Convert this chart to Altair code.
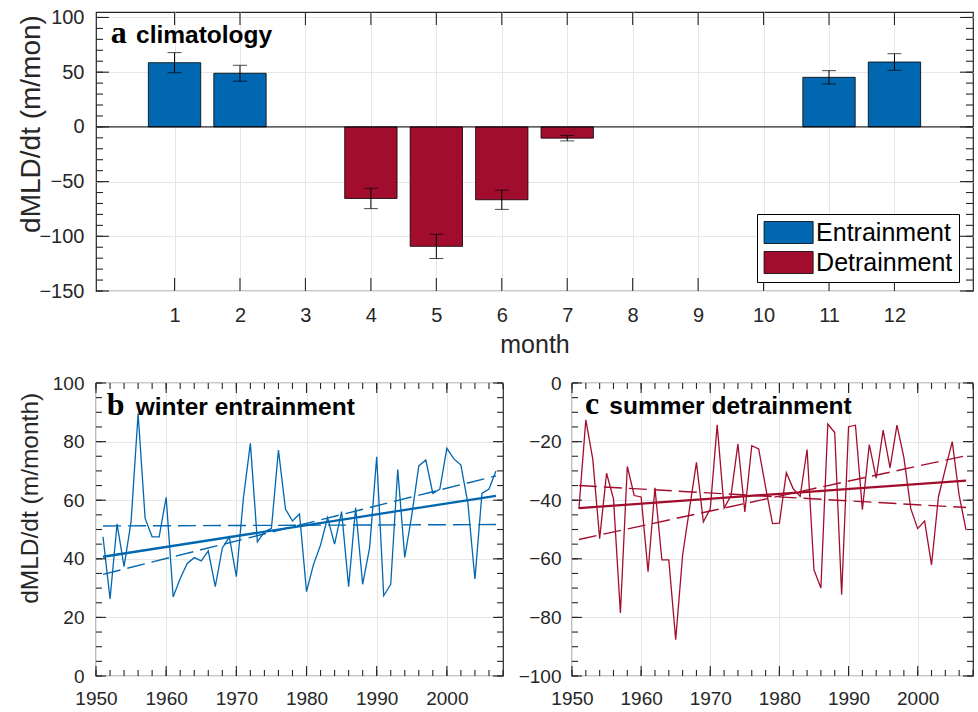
import altair as alt
import pandas as pd

# ---------------- data ----------------
months = [1, 2, 4, 5, 6, 7, 11, 12]
clim = [58.7, 49.0, -65.4, -109.2, -66.6, -10.3, 45.3, 59.3]
clim_err = [9.2, 7.3, 9.3, 11.1, 8.8, 2.5, 6.1, 7.6]
kinds = ["Entrainment", "Entrainment", "Detrainment", "Detrainment",
         "Detrainment", "Detrainment", "Entrainment", "Entrainment"]

years = list(range(1951, 2008))
winter = [47.5, 26.3, 51.9, 37.3, 52.7, 89.6, 53.8, 47.5, 47.5, 61.0,
          27.0, 33.3, 38.4, 40.4, 39.3, 42.7, 30.5, 43.6, 47.5, 33.9,
          60.6, 79.4, 45.8, 49.2, 50.4, 77.1, 57.0, 52.9, 55.3, 28.8,
          38.1, 44.7, 54.1, 45.0, 56.1, 30.5, 57.4, 31.3, 43.9, 74.8,
          27.4, 31.3, 70.5, 40.5, 54.9, 71.7, 73.7, 62.3, 63.8, 77.7,
          74.1, 72.0, 58.9, 33.1, 62.3, 63.8, 70.0]
summer = [-42.9, -12.6, -25.9, -53.1, -30.8, -39.5, -78.5, -28.5, -38.4, -38.9,
          -64.4, -35.8, -60.4, -60.4, -87.6, -58.7, -42.9, -27.1, -47.4, -42.9,
          -14.3, -42.7, -38.4, -20.8, -44.0, -21.4, -22.5, -35.5, -48.0, -47.8,
          -30.6, -36.1, -38.7, -22.7, -63.8, -70.0, -14.0, -16.9, -72.3, -14.9,
          -14.4, -43.2, -21.0, -32.5, -16.1, -29.0, -14.4, -25.4, -42.9, -49.7,
          -47.1, -62.1, -38.9, -29.3, -20.0, -38.4, -50.2]

fit_years = [1951, 2007]
winter_fit = [40.7, 61.5]
winter_bound1 = [51.2, 51.7]
winter_bound2 = [34.7, 68.3]
summer_fit = [-42.7, -33.3]
summer_bound1 = [-35.0, -42.5]
summer_bound2 = [-53.4, -24.8]

# tick values
month_ticks = list(range(1, 13))
clim_major = [-150, -100, -50, 0, 50, 100]
clim_minor = list(range(-150, 101, 10))
year_major = [1950, 1960, 1970, 1980, 1990, 2000]
year_minor = list(range(1950, 2009, 2))
winter_major = [0, 20, 40, 60, 80, 100]
winter_minor = list(range(0, 101, 5))
summer_major = [-100, -80, -60, -40, -20, 0]
summer_minor = list(range(-100, 1, 5))

# ---------------- style ----------------
BLUE = "#0067B0"
RED = "#A30D2D"
AX = "#262626"
GRID = "#E6E6E6"
FONT = "Liberation Sans"
SERIF = "Liberation Serif"


def tick_layers(vals, orient, length, W, H, scale):
    df = pd.DataFrame({"v": vals})
    base = alt.Chart(df).mark_rule(color=AX, strokeWidth=1.1)
    if orient == "y":
        enc = alt.Y("v:Q", scale=scale)
        return [base.encode(y=enc, x=alt.value(0), x2=alt.value(length)),
                base.encode(y=enc, x=alt.value(W - length), x2=alt.value(W))]
    enc = alt.X("v:Q", scale=scale)
    return [base.encode(x=enc, y=alt.value(0), y2=alt.value(length)),
            base.encode(x=enc, y=alt.value(H - length), y2=alt.value(H))]


def label_layers(letter, word, lx, wx, by):
    d1 = pd.DataFrame({"t": [letter]})
    d2 = pd.DataFrame({"t": [word]})
    l1 = alt.Chart(d1).mark_text(font=SERIF, fontWeight="bold", fontSize=32,
                                 align="left", baseline="alphabetic", color="black").encode(
        text="t:N", x=alt.value(lx), y=alt.value(by))
    l2 = alt.Chart(d2).mark_text(font=FONT, fontWeight="bold", fontSize=24.5,
                                 align="left", baseline="alphabetic", color="black").encode(
        text="t:N", x=alt.value(wx), y=alt.value(by))
    return [l1, l2]


# ---------------- panel a ----------------
A_W, A_H = 877, 279
xa = alt.Scale(domain=[-0.2, 13.2], nice=False, zero=False)
ya = alt.Scale(domain=[-150, 105], nice=False, zero=False)
clim_df = pd.DataFrame({"month": months, "value": clim, "err": clim_err, "kind": kinds})

bars = alt.Chart(clim_df).transform_calculate(
    x0="datum.month - 0.4", x1="datum.month + 0.4", zero="0"
).mark_bar(stroke="black", strokeWidth=0.8).encode(
    x=alt.X("x0:Q", scale=xa, axis=alt.Axis(
        values=month_ticks, format="d", title="month", labelFontSize=20, labelPadding=14,
        labelFlush=False, titleFontSize=25, titleY=61.7, titleBaseline="alphabetic", grid=True)),
    x2="x1",
    y=alt.Y("value:Q", scale=ya, axis=alt.Axis(
        values=clim_major, title="dMLD/dt (m/mon)", labelFontSize=20, labelPadding=12,
        titleFontSize=28, titleX=-57, titleY=111.5, titleBaseline="alphabetic", grid=True)),
    y2="zero",
    color=alt.Color("kind:N", scale=alt.Scale(domain=["Entrainment", "Detrainment"], range=[BLUE, RED]),
                    legend=alt.Legend(
                        title=None, orient="none", legendX=661, legendY=202, direction="vertical",
                        symbolType="M-2.23,-1L2.23,-1L2.23,1L-2.23,1Z", symbolSize=484,
                        symbolOffset=13.1,
                        symbolStrokeColor="black", symbolStrokeWidth=0.8,
                        labelFontSize=25, labelFont=FONT, labelColor="black", labelOffset=15,
                        rowPadding=3, padding=6, strokeColor="black", fillColor="white")),
)

zero_line = alt.Chart(pd.DataFrame({"v": [0]})).mark_rule(color="black", strokeWidth=1).encode(
    y=alt.Y("v:Q", scale=ya), x=alt.value(0), x2=alt.value(A_W))

err_base = alt.Chart(clim_df).transform_calculate(
    lo="datum.value - datum.err", hi="datum.value + datum.err")
err_rule = err_base.mark_rule(color="black", strokeWidth=1).encode(
    x=alt.X("month:Q", scale=xa), y=alt.Y("lo:Q", scale=ya), y2="hi")
cap_hi = err_base.mark_tick(orient="horizontal", size=14, thickness=1, color="black").encode(
    x=alt.X("month:Q", scale=xa), y=alt.Y("hi:Q", scale=ya))
cap_lo = err_base.mark_tick(orient="horizontal", size=14, thickness=1, color="black").encode(
    x=alt.X("month:Q", scale=xa), y=alt.Y("lo:Q", scale=ya))

panel_a = alt.layer(
    bars, zero_line, err_rule, cap_hi, cap_lo,
    *tick_layers(month_ticks, "x", 13, A_W, A_H, xa),
    *tick_layers(clim_major, "y", 13, A_W, A_H, ya),
    *tick_layers(clim_minor, "y", 7, A_W, A_H, ya),
    *label_layers("a", "climatology", 14.7, 40, 30.7),
).properties(width=A_W, height=A_H)


# ---------------- panels b, c ----------------
def series_panel(vals, fit, b1, b2, color, W, H, ydom, ymajor, yminor, ytitle, ylabpad,
                 letter, word, lx, wx, by):
    xs = alt.Scale(domain=[1950, 2008], nice=False, zero=False)
    ys = alt.Scale(domain=ydom, nice=False, zero=False)
    yaxis_kw = dict(values=ymajor, labelFontSize=19, labelPadding=ylabpad, grid=True)
    if ytitle:
        yaxis_kw.update(title=ytitle, titleFontSize=24.5, titleX=-58.5, titleY=114.8,
                        titleBaseline="alphabetic")
    else:
        yaxis_kw.update(title=None)
    sdf = pd.DataFrame({"year": years, "v": vals})
    line = alt.Chart(sdf).mark_line(color=color, strokeWidth=1.3).encode(
        x=alt.X("year:Q", scale=xs, axis=alt.Axis(values=year_major, format="d", title=None,
                                                  labelFontSize=19, labelPadding=13,
                                                  labelFlush=False, grid=True)),
        y=alt.Y("v:Q", scale=ys, axis=alt.Axis(**yaxis_kw)))
    fdf = pd.DataFrame({"year": fit_years, "v": fit})
    fit_line = alt.Chart(fdf).mark_line(color=color, strokeWidth=2.3).encode(
        x=alt.X("year:Q", scale=xs), y=alt.Y("v:Q", scale=ys))
    bdf = pd.DataFrame({"year": fit_years * 2, "v": b1 + b2, "g": ["b1", "b1", "b2", "b2"]})
    bound_lines = alt.Chart(bdf).mark_line(color=color, strokeWidth=1.4, strokeDash=[18, 7]).encode(
        x=alt.X("year:Q", scale=xs), y=alt.Y("v:Q", scale=ys), detail="g:N")
    return alt.layer(
        line, fit_line, bound_lines,
        *tick_layers(year_major, "x", 10, W, H, xs),
        *tick_layers(year_minor, "x", 6, W, H, xs),
        *tick_layers(ymajor, "y", 10, W, H, ys),
        *tick_layers(yminor, "y", 6, W, H, ys),
        *label_layers(letter, word, lx, wx, by),
    ).properties(width=W, height=H)


panel_b = series_panel(winter, winter_fit, winter_bound1, winter_bound2, BLUE, 407, 293,
                       [0, 100], winter_major, winter_minor, "dMLD/dt (m/month)", 12,
                       "b", "winter entrainment", 10.7, 39.7, 32.3)
panel_c = series_panel(summer, summer_fit, summer_bound1, summer_bound2, RED, 401, 293,
                       [-100, 0], summer_major, summer_minor, None, 11,
                       "c", "summer detrainment", 13, 37.3, 31)

bottom = alt.hconcat(panel_b, panel_c, spacing=69, bounds="flush")

chart = alt.vconcat(panel_a, bottom, spacing=14).properties(
    padding={"left": 16, "top": 6, "right": 0, "bottom": 0}
).configure_view(stroke=AX, strokeWidth=1.2).configure_axis(
    labelFont=FONT, titleFont=FONT, labelColor=AX, titleColor=AX, gridColor=GRID, gridWidth=1,
    ticks=False, domain=False, tickSize=0, titleFontWeight="normal", zindex=0
)

chart.save("out.html", embed_options={"renderer": "svg", "actions": False})
